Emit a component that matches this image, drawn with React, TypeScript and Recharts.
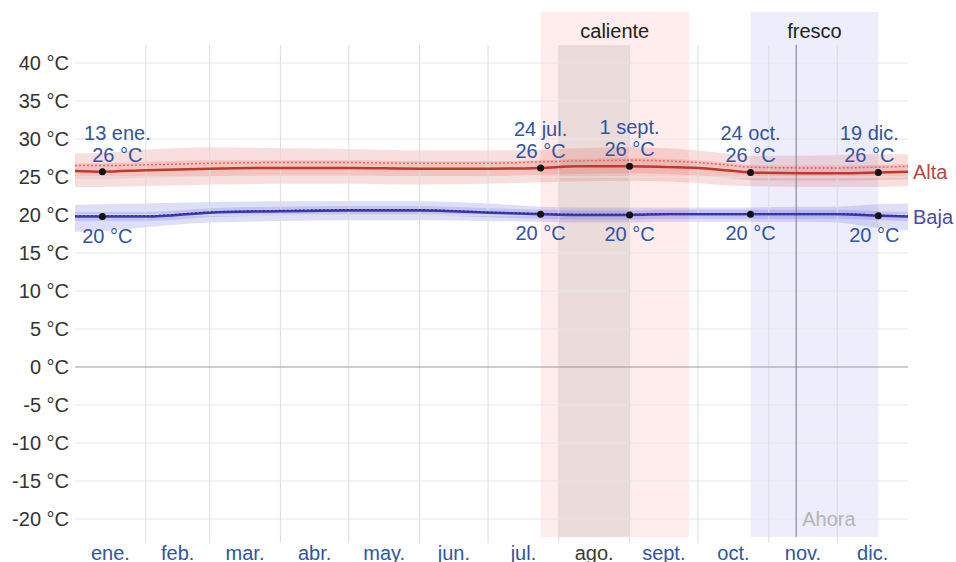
import {
  ComposedChart,
  Area,
  Line,
  XAxis,
  YAxis,
  ReferenceArea,
  ReferenceLine,
  ReferenceDot,
} from 'recharts'

const FONT = '"Liberation Sans", Arial, sans-serif'

// day of year (0 = 1 ene.)
const days = [0, 12, 31, 59, 90, 120, 151, 181, 204, 220, 243, 260, 273, 285, 296, 319, 334, 352, 365]

const highAvg = [25.8, 25.7, 25.9, 26.1, 26.2, 26.2, 26.1, 26.1, 26.2, 26.4, 26.4, 26.3, 26.2, 25.9, 25.6, 25.5, 25.5, 25.6, 25.7]
const highFeel = [26.5, 26.5, 26.6, 26.8, 26.9, 26.9, 26.8, 26.8, 27.0, 27.1, 27.2, 27.1, 26.9, 26.6, 26.3, 26.2, 26.2, 26.3, 26.4]
const highP90 = [28.1, 28.2, 28.6, 28.9, 28.8, 28.7, 28.5, 28.5, 28.6, 28.8, 28.9, 28.8, 28.5, 28.1, 27.8, 27.8, 27.9, 28.0, 28.0]
const highP75 = [26.8, 26.8, 27.0, 27.2, 27.2, 27.2, 27.1, 27.1, 27.2, 27.4, 27.5, 27.4, 27.2, 26.9, 26.6, 26.5, 26.5, 26.6, 26.7]
const highP25 = [24.8, 24.8, 24.9, 25.1, 25.2, 25.2, 25.1, 25.1, 25.3, 25.4, 25.5, 25.4, 25.2, 24.9, 24.6, 24.5, 24.5, 24.6, 24.7]
const highP10 = [23.7, 23.7, 23.8, 24.0, 24.1, 24.1, 24.0, 24.1, 24.3, 24.4, 24.5, 24.4, 24.2, 23.9, 23.8, 23.7, 23.7, 23.7, 23.8]

const lowAvg = [19.8, 19.8, 19.8, 20.3, 20.5, 20.6, 20.6, 20.3, 20.1, 20.0, 20.0, 20.1, 20.1, 20.1, 20.1, 20.1, 20.1, 19.9, 19.8]
const lowFeel = [19.9, 19.9, 19.9, 20.4, 20.6, 20.7, 20.7, 20.4, 20.2, 20.1, 20.1, 20.2, 20.2, 20.2, 20.2, 20.2, 20.2, 20.0, 19.9]
const lowP90 = [21.3, 21.4, 21.5, 21.7, 21.8, 21.8, 21.8, 21.5, 21.1, 21.0, 21.0, 21.0, 21.0, 21.0, 21.0, 21.1, 21.1, 21.4, 21.5]
const lowP75 = [20.4, 20.4, 20.4, 20.9, 21.1, 21.2, 21.2, 20.9, 20.7, 20.6, 20.6, 20.7, 20.7, 20.7, 20.7, 20.7, 20.7, 20.5, 20.4]
const lowP25 = [19.2, 19.2, 19.2, 19.7, 19.9, 20.0, 20.0, 19.7, 19.5, 19.4, 19.4, 19.5, 19.5, 19.5, 19.5, 19.5, 19.5, 19.3, 19.2]
const lowP10 = [17.8, 17.9, 18.4, 19.0, 19.2, 19.3, 19.3, 19.2, 19.1, 19.0, 19.0, 19.1, 19.1, 19.1, 19.1, 19.1, 19.0, 18.3, 18.0]

const monthStarts = [31, 59, 90, 120, 151, 181, 212, 243, 273, 304, 334]
const monthMids = [15.5, 45, 74.5, 105, 135.5, 166, 196.5, 227.5, 258, 288.5, 319, 349.5]
const monthLabels = ['ene.', 'feb.', 'mar.', 'abr.', 'may.', 'jun.', 'jul.', 'ago.', 'sept.', 'oct.', 'nov.', 'dic.']
const selectedMonth = 7

const yTicks = [-20, -15, -10, -5, 0, 5, 10, 15, 20, 25, 30, 35, 40]

const markDays = [12, 204, 243, 296, 352]
const markDates = ['13 ene.', '24 jul.', '1 sept.', '24 oct.', '19 dic.']

const hotSeason = [204, 269]
const coolSeason = [296, 352]
const today = 316

const Y_MIN = -23.16
const Y_MAX = 42.37
const BAND_BOTTOM = -22.37
const BAND_TOP = 46.7

const data = days.map((d, i) => ({
  day: d,
  high: highAvg[i],
  highFeel: highFeel[i],
  highOuter: [highP10[i], highP90[i]],
  highInner: [highP25[i], highP75[i]],
  low: lowAvg[i],
  lowFeel: lowFeel[i],
  lowOuter: [lowP10[i], lowP90[i]],
  lowInner: [lowP25[i], lowP75[i]],
}))

const LABEL_BLUE = '#2f54a3'

function YTick({ x, y, payload }: any) {
  return (
    <text x={x} y={y} textAnchor="end" dominantBaseline="central" fill="#333" fontSize={20} fontFamily={FONT}>
      {`${payload.value} °C`}
    </text>
  )
}

function MonthTick({ x, y, index }: any) {
  return (
    <text
      x={x}
      y={y + 10}
      textAnchor="middle"
      dominantBaseline="central"
      fill={index === selectedMonth ? '#3a3a3a' : LABEL_BLUE}
      fontSize={20}
      fontFamily={FONT}
    >
      {monthLabels[index]}
    </text>
  )
}

function HighMark({ cx, cy, date, value, nudge }: any) {
  return (
    <g>
      <circle cx={cx} cy={cy} r={3.5} fill="#111" />
      <text x={cx + nudge} y={cy - 39} textAnchor="middle" dominantBaseline="central" fill={LABEL_BLUE} fontSize={20} fontFamily={FONT}>
        {date}
      </text>
      <text x={cx + nudge} y={cy - 17} textAnchor="middle" dominantBaseline="central" fill={LABEL_BLUE} fontSize={20} fontFamily={FONT}>
        {`${Math.round(value)} °C`}
      </text>
    </g>
  )
}

function LowMark({ cx, cy, value, nudge }: any) {
  return (
    <g>
      <circle cx={cx} cy={cy} r={3.5} fill="#111" />
      <text x={cx + nudge} y={cy + 19} textAnchor="middle" dominantBaseline="central" fill={LABEL_BLUE} fontSize={20} fontFamily={FONT}>
        {`${Math.round(value)} °C`}
      </text>
    </g>
  )
}

function EndLabel({ cx, cy, text, color }: any) {
  return (
    <text x={cx + 5} y={cy} dominantBaseline="central" fill={color} fontSize={20} fontFamily={FONT}>
      {text}
    </text>
  )
}

function highNudge(i: number) {
  if (i === 0) return 15
  if (i === markDays.length - 1) return -9
  return 0
}

function lowNudge(i: number) {
  if (i === 0) return 5
  if (i === markDays.length - 1) return -4
  return 0
}

export default function App() {
  const last = days.length - 1
  return (
    <div style={{ position: 'absolute', left: 0, top: 0, background: '#fff' }}>
      <ComposedChart width={956} height={562} data={data} margin={{ top: 45, right: 48, bottom: 0, left: 0 }}>
        {/* grid */}
        {yTicks
          .filter((t) => t !== 0)
          .map((t) => (
            <ReferenceLine key={`gy${t}`} y={t} stroke="#e6e6e6" strokeWidth={1} />
          ))}
        {monthStarts.map((s) => (
          <ReferenceLine key={`gx${s}`} x={s} stroke="#dcdcdc" strokeWidth={1} />
        ))}

        <ReferenceArea
          x1={hotSeason[0]}
          x2={hotSeason[1]}
          y1={BAND_BOTTOM}
          y2={BAND_TOP}
          ifOverflow="visible"
          fill="#ffb3b3"
          fillOpacity={0.25}
          stroke="none"
          label={{ value: 'caliente', position: 'insideTop', offset: 12, fill: '#222', fontSize: 20, fontFamily: FONT }}
        />
        <ReferenceArea
          x1={coolSeason[0]}
          x2={coolSeason[1]}
          y1={BAND_BOTTOM}
          y2={BAND_TOP}
          ifOverflow="visible"
          fill="#b8b8f5"
          fillOpacity={0.25}
          stroke="none"
          label={{ value: 'fresco', position: 'insideTop', offset: 12, fill: '#222', fontSize: 20, fontFamily: FONT }}
        />
        <ReferenceArea
          x1={monthStarts[selectedMonth - 1]}
          x2={monthStarts[selectedMonth]}
          y1={BAND_BOTTOM}
          y2={Y_MAX}
          ifOverflow="visible"
          fill="#707070"
          fillOpacity={0.13}
          stroke="none"
        />
        <ReferenceLine y={0} stroke="#9a9a9a" strokeWidth={1.2} />
        <ReferenceLine
          segment={[
            { x: today, y: BAND_BOTTOM },
            { x: today, y: Y_MAX },
          ]}
          stroke="#8a8a9a"
          strokeWidth={1.2}
          ifOverflow="visible"
        />
        <ReferenceDot
          x={today}
          y={yTicks[0]}
          r={0}
          ifOverflow="visible"
          shape={(p: any) => <EndLabel cx={p.cx + 1} cy={p.cy} text="Ahora" color="#b5b5b5" />}
        />

        <XAxis
          dataKey="day"
          type="number"
          domain={[0, 365]}
          ticks={monthMids}
          interval={0}
          tick={<MonthTick />}
          tickLine={false}
          axisLine={false}
          tickSize={0}
          tickMargin={0}
          height={19}
          allowDataOverflow
        />
        <YAxis
          type="number"
          domain={[Y_MIN, Y_MAX]}
          ticks={yTicks}
          interval={0}
          tick={<YTick />}
          tickLine={false}
          axisLine={false}
          tickSize={0}
          tickMargin={6}
          width={75}
          allowDataOverflow
        />

        <Area dataKey="highOuter" type="monotone" fill="#dc5a50" fillOpacity={0.2} stroke="none" isAnimationActive={false} />
        <Area dataKey="highInner" type="monotone" fill="#dc5a50" fillOpacity={0.2} stroke="none" isAnimationActive={false} />
        <Area dataKey="lowOuter" type="monotone" fill="#5a5ad8" fillOpacity={0.2} stroke="none" isAnimationActive={false} />
        <Area dataKey="lowInner" type="monotone" fill="#5a5ad8" fillOpacity={0.2} stroke="none" isAnimationActive={false} />

        <Line dataKey="highFeel" type="monotone" stroke="#d86a62" strokeWidth={1.5} strokeDasharray="2 2" dot={false} isAnimationActive={false} />
        <Line dataKey="high" type="monotone" stroke="#c0392b" strokeWidth={2.5} dot={false} isAnimationActive={false} />
        <Line dataKey="low" type="monotone" stroke="#3a3ab8" strokeWidth={2.5} dot={false} isAnimationActive={false} />
        <Line dataKey="lowFeel" type="monotone" stroke="#2a2a90" strokeWidth={1.2} strokeDasharray="2 2" dot={false} isAnimationActive={false} />

        {markDays.map((d, i) => {
          const idx = days.indexOf(d)
          return (
            <ReferenceDot
              key={`h${d}`}
              x={d}
              y={highAvg[idx]}
              r={0}
              ifOverflow="visible"
              shape={(p: any) => <HighMark cx={p.cx} cy={p.cy} date={markDates[i]} value={highAvg[idx]} nudge={highNudge(i)} />}
            />
          )
        })}
        {markDays.map((d, i) => {
          const idx = days.indexOf(d)
          return (
            <ReferenceDot
              key={`l${d}`}
              x={d}
              y={lowAvg[idx]}
              r={0}
              ifOverflow="visible"
              shape={(p: any) => <LowMark cx={p.cx} cy={p.cy} value={lowAvg[idx]} nudge={lowNudge(i)} />}
            />
          )
        })}
        <ReferenceDot
          x={days[last]}
          y={highAvg[last]}
          r={0}
          ifOverflow="visible"
          shape={(p: any) => <EndLabel cx={p.cx} cy={p.cy} text="Alta" color="#b5473f" />}
        />
        <ReferenceDot
          x={days[last]}
          y={lowAvg[last]}
          r={0}
          ifOverflow="visible"
          shape={(p: any) => <EndLabel cx={p.cx} cy={p.cy} text="Baja" color="#4a4aa8" />}
        />
      </ComposedChart>
    </div>
  )
}
